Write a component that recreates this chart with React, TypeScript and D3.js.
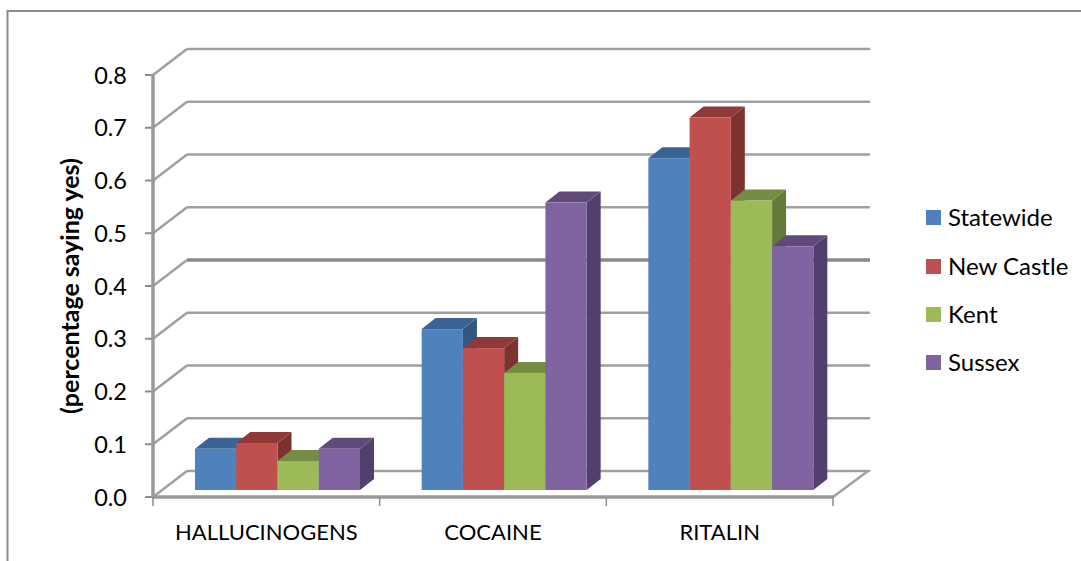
import React from "react";
import * as d3 from "d3";

const categories = ["HALLUCINOGENS", "COCAINE", "RITALIN"];
const seriesNames = ["Statewide", "New Castle", "Kent", "Sussex"];
const statewide = [0.078, 0.305, 0.629];
const newCastle = [0.089, 0.269, 0.706];
const kent = [0.055, 0.222, 0.549];
const sussex = [0.078, 0.545, 0.462];
const seriesValues = [statewide, newCastle, kent, sussex];
const yTicks = [0, 0.1, 0.2, 0.3, 0.4, 0.5, 0.6, 0.7, 0.8];
const fronts = ["#4f81bd", "#c0504d", "#9bbb59", "#8064a2"];
const tops = ["#3a6496", "#8f3a38", "#748d42", "#5f4a79"];
const sides = ["#335781", "#7d3230", "#647a39", "#533f6c"];
const legendY = [217.5, 266.5, 314.5, 362.5];

const W = 1081, H = 561;
const FONT = "Lato, 'Open Sans', sans-serif";
const y = d3.scaleLinear().domain([0, 0.8]).range([497, 75]);
const x0 = d3.scaleBand<string>().domain(categories).range([153, 833]);
const x1 = d3.scaleBand<string>().domain(seriesNames).range([42, 207]);
const wallDx = 34, wallDy = -26;
const barDx = 14, barDy = -11, barLift = -7;
const grid = "#a0a0a0";
const poly = (p: number[][]) => p.map((q) => q.join(",")).join(" ");

export default function App() {
  return (
    <svg width={W} height={H} viewBox={`0 0 ${W} ${H}`} style={{ position: "absolute", left: 0, top: 0, display: "block", background: "#fff" }}>
      <path d={`M7.5,${H}V11H${W}`} fill="none" stroke="#8c8c8c" strokeWidth={2} />
      {yTicks.map((t) => {
        const heavy = t === 0.4;
        return (
          <g key={t}>
            {t > 0 && (
              <path d={`M${153},${y(t)}L${153 + wallDx},${y(t) + wallDy}`} fill="none" stroke={grid} strokeWidth={2.5} />
            )}
            <line x1={153 + wallDx} x2={870} y1={y(t) + wallDy} y2={y(t) + wallDy} stroke={heavy ? "#8a8a8a" : grid} strokeWidth={heavy ? 3.5 : 2.5} />
            <line x1={145} x2={153} y1={y(t)} y2={y(t)} stroke="#8c8c8c" strokeWidth={2} />
            <text x={127} y={y(t) + 8.5} textAnchor="end" fontFamily={FONT} fontSize={23.5} fill="#000">{t.toFixed(1)}</text>
          </g>
        );
      })}
      <path d={`M153,497L187,471M833,497L868,471`} fill="none" stroke={grid} strokeWidth={2.5} />
      <line x1={153} x2={153} y1={y(0.8)} y2={497} stroke="#999" strokeWidth={3.5} />
      <line x1={152} x2={833} y1={497} y2={497} stroke="#999" strokeWidth={3.5} />
      {[...categories.map((c) => x0(c)!), 833].map((t) => (
        <line key={t} x1={t} x2={t} y1={497} y2={506} stroke="#8c8c8c" strokeWidth={1.5} />
      ))}
      {categories.map((c, ci) =>
        seriesNames.map((s, si) => {
          const v = seriesValues[si][ci];
          const xl = x0(c)! + x1(s)!;
          const xr = xl + x1.bandwidth();
          const yt = y(v) + barLift;
          const yb = y(0) + barLift;
          return (
            <g key={c + s}>
              <polygon points={poly([[xr, yt], [xr + barDx, yt + barDy], [xr + barDx, yb + barDy], [xr, yb]])} fill={sides[si]} />
              <polygon points={poly([[xl, yt], [xl + barDx, yt + barDy], [xr + barDx, yt + barDy], [xr, yt]])} fill={tops[si]} />
              <rect x={xl} y={yt} width={x1.bandwidth()} height={yb - yt} fill={fronts[si]} />
            </g>
          );
        })
      )}
      {categories.map((c) => (
        <text key={c} x={x0(c)! + x0.bandwidth() / 2} y={540} textAnchor="middle" fontFamily={FONT} fontSize={22} fill="#000">{c}</text>
      ))}
      <text transform="translate(79,286) rotate(-90)" textAnchor="middle" fontFamily={FONT} fontWeight={700} fontSize={25} fill="#000">(percentage saying yes)</text>
      {seriesNames.map((s, i) => (
        <g key={s}>
          <rect x={926} y={legendY[i] - 7.5} width={15} height={15} fill={fronts[i]} />
          <text x={948} y={legendY[i] + 8} fontFamily={FONT} fontSize={24} fill="#000">{s}</text>
        </g>
      ))}
    </svg>
  );
}
